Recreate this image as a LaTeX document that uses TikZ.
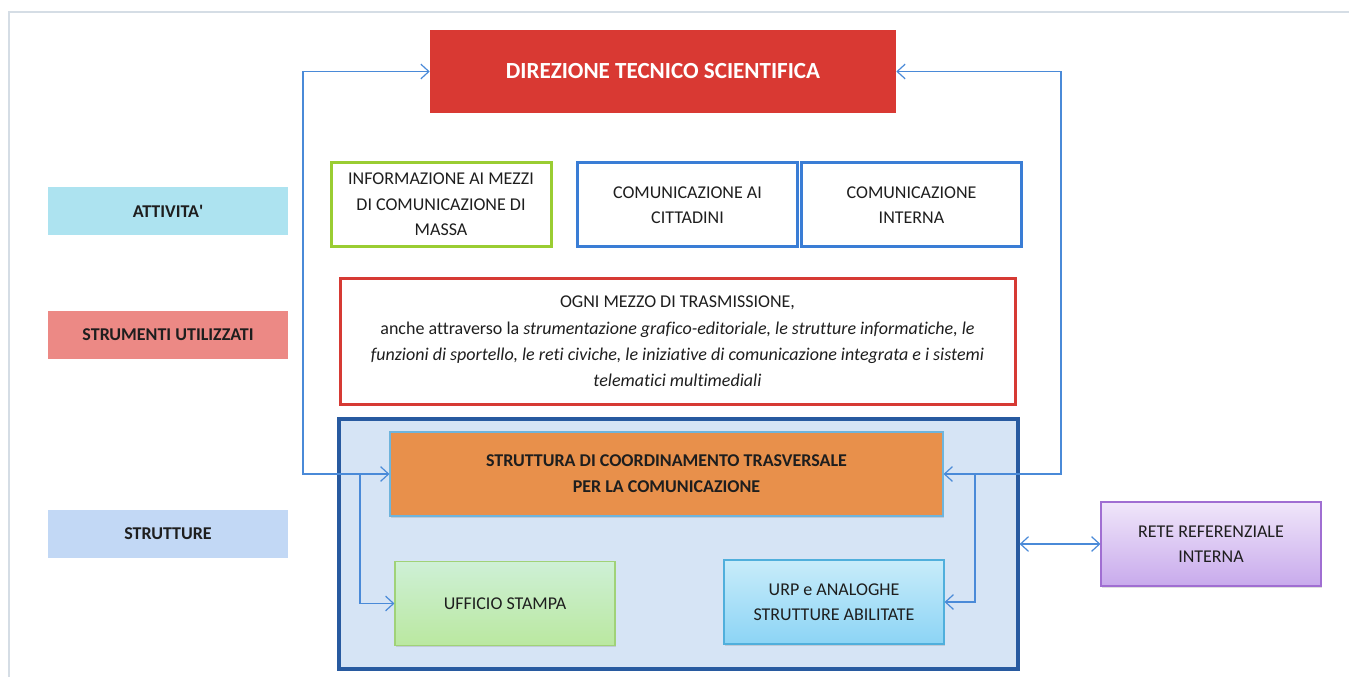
\documentclass[tikz,border=0pt]{standalone}
\usepackage{fontspec}
\setmainfont{Carlito}[Ligatures={NoCommon}]
\usetikzlibrary{arrows.meta,shadows}
\definecolor{dirred}{RGB}{217,57,51}
\definecolor{attfill}{RGB}{173,227,240}
\definecolor{strfill}{RGB}{236,137,133}
\definecolor{sttfill}{RGB}{194,216,245}
\definecolor{greenb}{RGB}{154,205,50}
\definecolor{blueb}{RGB}{58,125,213}
\definecolor{redb}{RGB}{214,58,52}
\definecolor{bigfill}{RGB}{214,228,245}
\definecolor{bigb}{RGB}{40,90,160}
\definecolor{coordfill}{RGB}{232,144,75}
\definecolor{coordb}{RGB}{110,180,220}
\definecolor{uffT}{RGB}{206,240,214}
\definecolor{uffB}{RGB}{186,232,160}
\definecolor{uffb}{RGB}{160,210,120}
\definecolor{urpT}{RGB}{200,236,250}
\definecolor{urpB}{RGB}{140,212,245}
\definecolor{urpb}{RGB}{80,175,220}
\definecolor{reteT}{RGB}{240,230,250}
\definecolor{reteB}{RGB}{200,170,236}
\definecolor{reteb}{RGB}{160,110,210}
\definecolor{arrc}{RGB}{74,138,216}
\definecolor{framec}{RGB}{213,221,229}
\definecolor{txt}{RGB}{30,30,30}
\tikzset{
  base/.style={rectangle, inner sep=0pt, align=center, text=txt,
    font=\fontsize{13.5}{19}\selectfont},
  label/.style={base, minimum width=180pt, minimum height=36pt,
    font=\fontsize{13.5}{19}\selectfont\bfseries},
  actbox/.style={base, draw, line width=2.25pt, fill=white,
    minimum width=165pt, minimum height=63pt},
  innerbox/.style={base, draw, line width=0.8pt,
    minimum width=165pt, minimum height=63pt,
    drop shadow={opacity=0.25, shadow xshift=1pt, shadow yshift=-1.2pt}},
  conn/.style={draw=arrc, line width=0.9pt},
  tip/.style={-{Straight Barb[length=6pt,width=11pt]}},
  tips/.style={{Straight Barb[length=6pt,width=11pt]}-{Straight Barb[length=6pt,width=11pt]}}
}
\begin{document}
\begin{tikzpicture}[x=0.75pt,y=-0.75pt]
\useasboundingbox (0,0) rectangle (1349,677);
% outer frame
\draw[framec, line width=1.2pt] (9,680) -- (9,12) -- (1352,12);

% left labels
\node[label, fill=attfill] (att) at (168,211) {ATTIVITA\textquotesingle};
\node[label, fill=strfill] (str) at (168,335) {STRUMENTI UTILIZZATI};
\node[label, fill=sttfill] (stt) at (168,534) {STRUTTURE};

% direction
\node[base, fill=dirred, text=white, minimum width=349.5pt, minimum height=62.25pt,
  font=\fontsize{17.3}{20}\selectfont\bfseries] (dir) at (663,71.5) {DIREZIONE TECNICO SCIENTIFICA};

% activities
\node[actbox, draw=greenb] (info) at (441,204.5) {INFORMAZIONE AI MEZZI\\DI COMUNICAZIONE DI\\MASSA};
\node[actbox, draw=blueb] (citt) at (687.5,205) {COMUNICAZIONE AI\\CITTADINI};
\node[actbox, draw=blueb] (intr) at (911.5,205) {COMUNICAZIONE\\INTERNA};

% tools
\node[base, draw=redb, line width=2.25pt, fill=white, minimum width=506.25pt, minimum height=93.75pt,
  font=\fontsize{13.5}{19.7}\selectfont] (ogni) at (677.5,341.5)
  {OGNI MEZZO DI TRASMISSIONE,\\
   anche attraverso la \textit{strumentazione grafico-editoriale, le strutture informatiche, le}\\
   \textit{funzioni di sportello, le reti civiche, le iniziative di comunicazione integrata e i sistemi}\\
   \textit{telematici multimediali}};

% structures
\node[base, draw=bigb, line width=2.4pt, fill=bigfill, minimum width=509.25pt, minimum height=187.5pt] (big) at (678.5,544) {};
\node[innerbox, fill=coordfill, draw=coordb, minimum width=414.75pt, minimum height=63pt,
  font=\fontsize{13.5}{19.5}\selectfont\bfseries] (coord) at (666.5,474)
  {STRUTTURA DI COORDINAMENTO TRASVERSALE\\PER LA COMUNICAZIONE};
\node[innerbox, top color=uffT, bottom color=uffB, draw=uffb] (uff) at (505,603.5) {UFFICIO STAMPA};
\node[innerbox, top color=urpT, bottom color=urpB, draw=urpb] (urp) at (834,602) {URP e ANALOGHE\\STRUTTURE ABILITATE};
\node[innerbox, top color=reteT, bottom color=reteB, draw=reteb] (rete) at (1211,544) {RETE REFERENZIALE\\INTERNA};

% connectors
\coordinate (L) at (303,474);
\coordinate (R) at (1061,474);
\coordinate (Li) at (360,474);
\coordinate (Ri) at (975,474);
\draw[conn, tips] (coord.west) -- (L) |- (dir.west);
\draw[conn, tips] (coord.east) -- (R) |- (dir.east);
\draw[conn, tip] (Li) |- (uff.west);
\draw[conn, tip] (Ri) |- (urp.east);
\draw[conn, tips] (big.east) -- (rete.west);
\end{tikzpicture}
\end{document}
